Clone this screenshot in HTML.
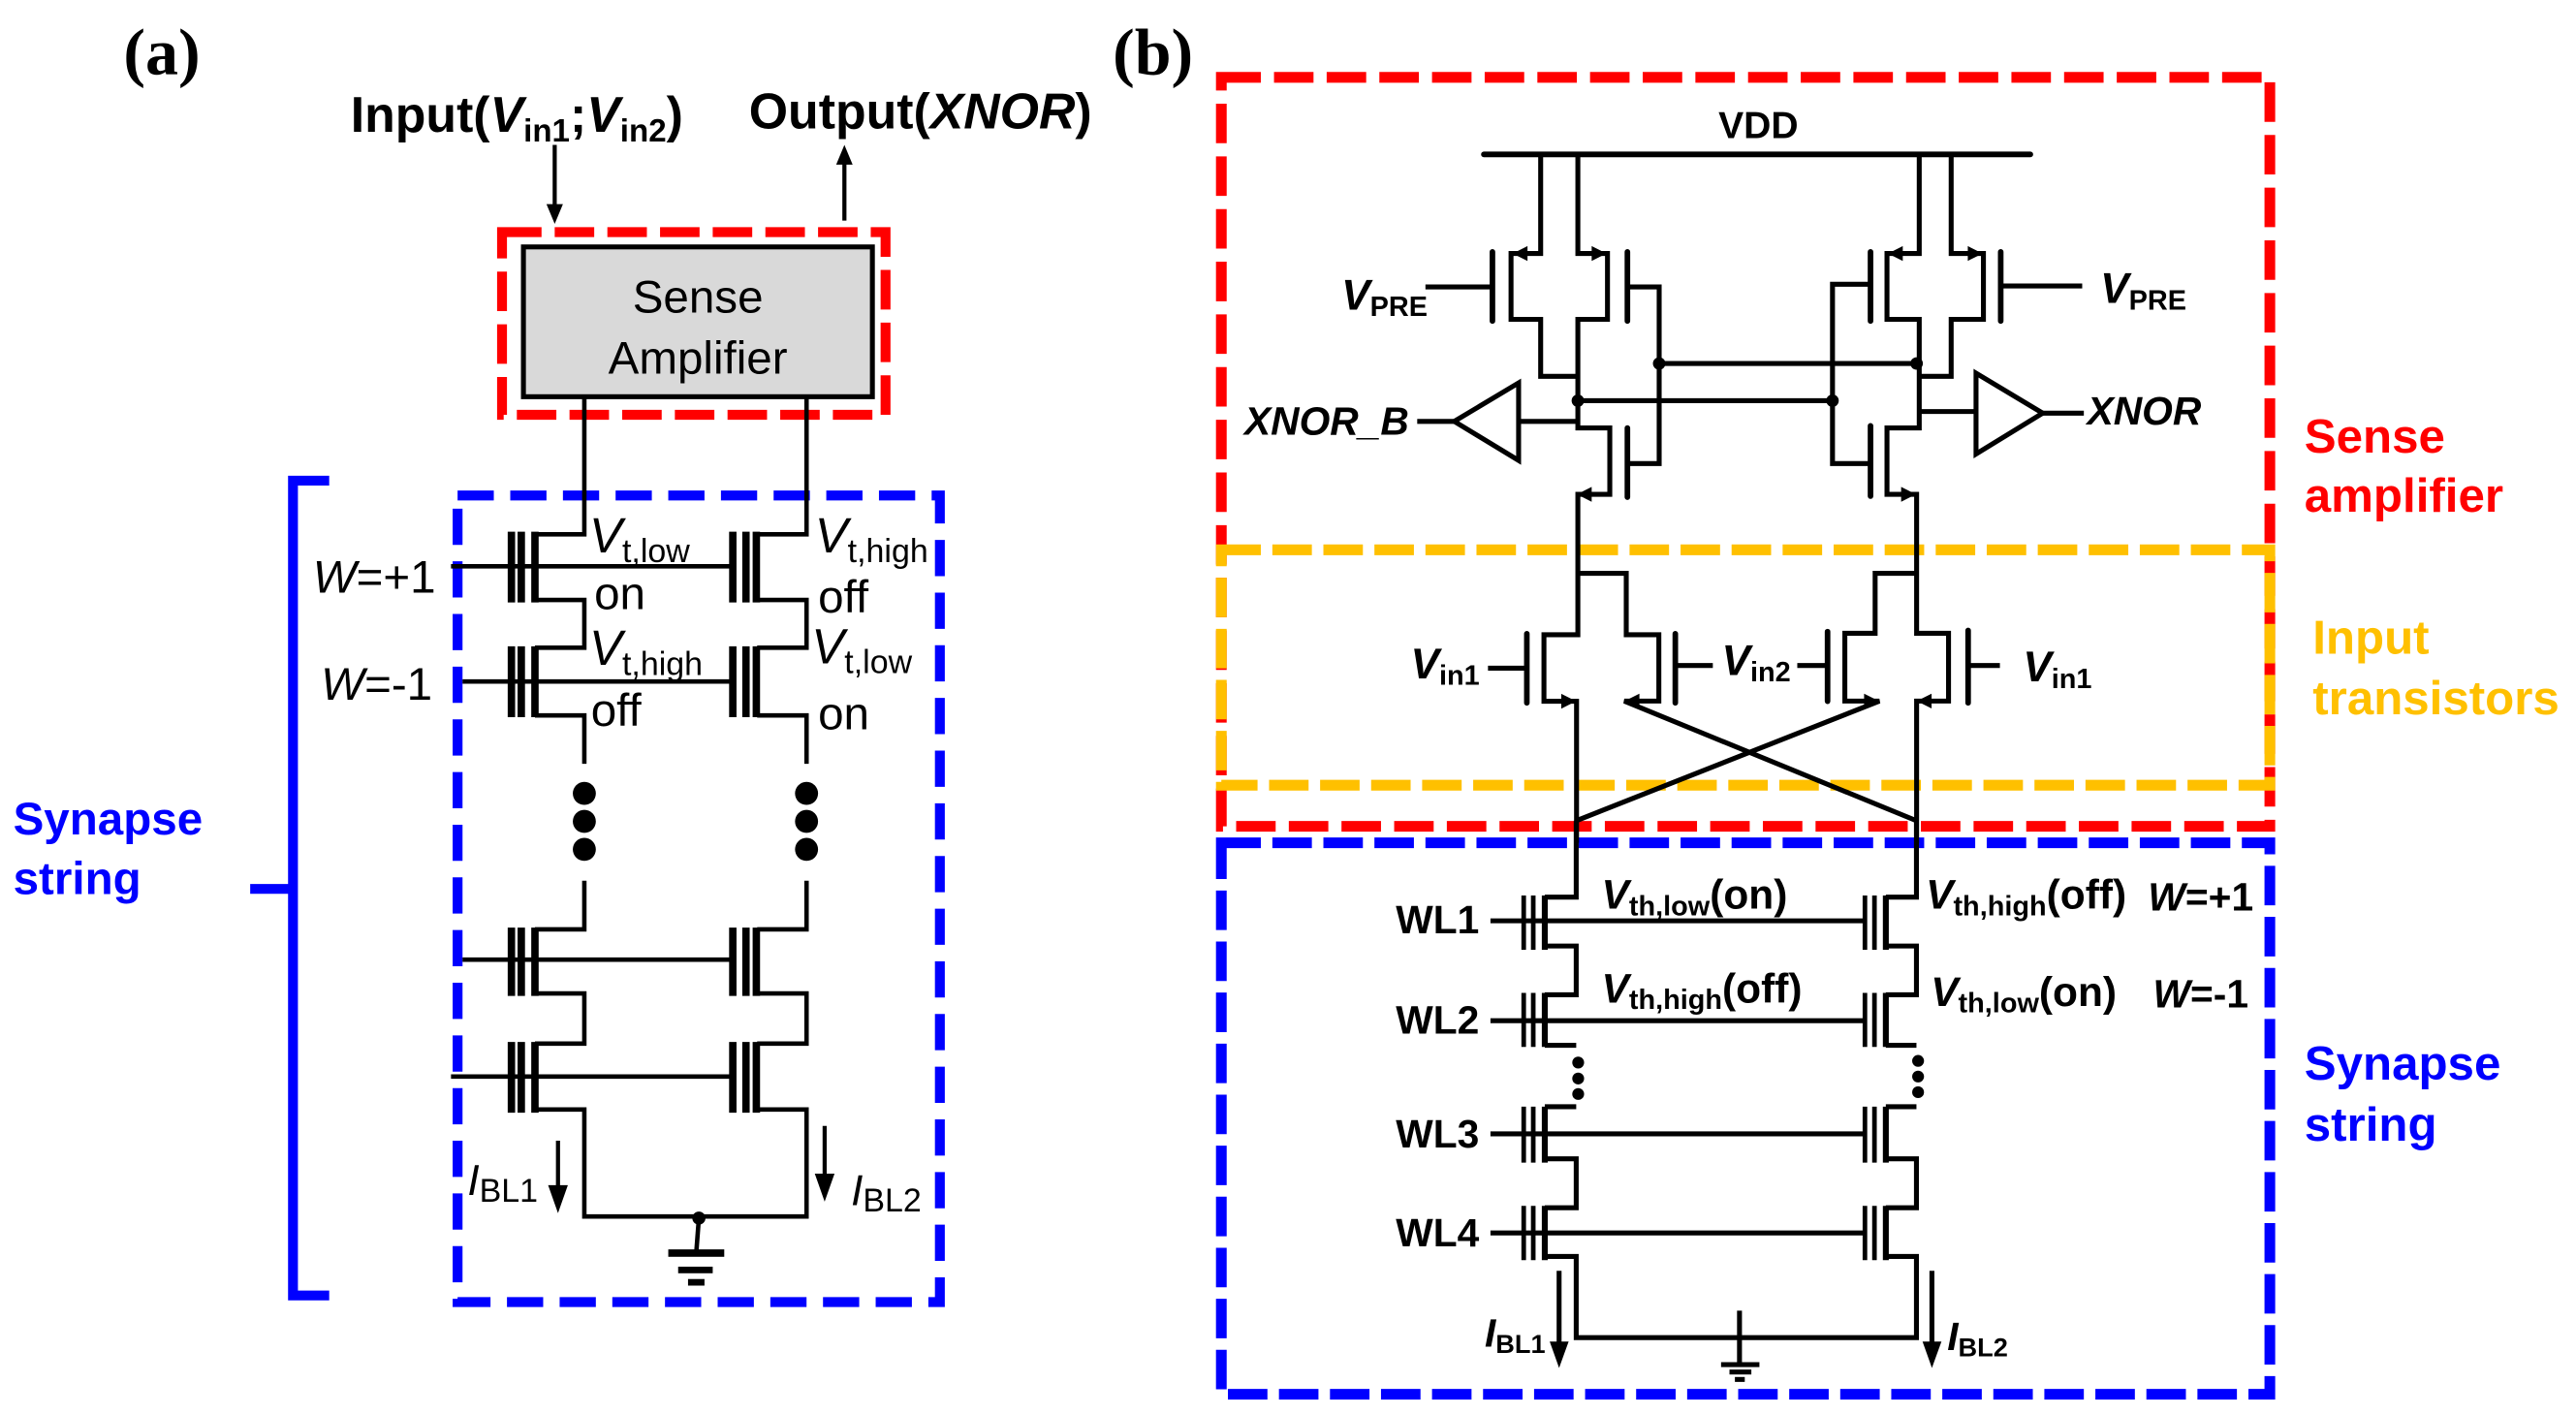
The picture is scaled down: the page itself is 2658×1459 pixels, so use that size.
<!DOCTYPE html>
<html><head><meta charset="utf-8"><style>
html,body{margin:0;padding:0;background:#fff;}
svg{display:block;}
text{font-family:"Liberation Sans",sans-serif;}
</style></head><body>
<svg width="2658" height="1459" viewBox="0 0 1565 859" preserveAspectRatio="none" xmlns="http://www.w3.org/2000/svg">
<rect width="1565" height="859" fill="#fff"/>

<!-- ============ PANEL A ============ -->
<text x="75" y="45" font-weight="bold" font-size="40" style="font-family:'Liberation Serif',serif">(a)</text>
<text x="213" y="80" font-weight="bold" font-size="30.5">Input(<tspan font-style="italic">V</tspan><tspan font-size="19.5" dy="6">in1</tspan><tspan dy="-6">;</tspan><tspan font-style="italic">V</tspan><tspan font-size="19.5" dy="6">in2</tspan><tspan dy="-6">)</tspan></text>
<text x="455" y="78" font-weight="bold" font-size="30.5">Output(<tspan font-style="italic">XNOR</tspan>)</text>
<line x1="337" y1="88" x2="337" y2="126" stroke="#000" stroke-width="2.5"/>
<path d="M332,124 L342,124 L337,136 z" fill="#000"/>
<line x1="513" y1="134" x2="513" y2="98" stroke="#000" stroke-width="2.5"/>
<path d="M508,100 L518,100 L513,88 z" fill="#000"/>
<rect x="305" y="141" width="233" height="111" fill="none" stroke="#f00" stroke-width="6" stroke-dasharray="24 8"/>
<rect x="318" y="150" width="212" height="91" fill="#d9d9d9" stroke="#000" stroke-width="3"/>
<text x="424" y="190" font-size="28" text-anchor="middle">Sense</text>
<text x="424" y="227" font-size="28" text-anchor="middle">Amplifier</text>

<rect x="278" y="301" width="293" height="490" fill="none" stroke="#00f" stroke-width="6" stroke-dasharray="22 10"/>
<path d="M200,292 H178 V787 H200 M178,540 H152" fill="none" stroke="#00f" stroke-width="6"/>
<text x="8" y="507" fill="#00f" font-weight="bold" font-size="28">Synapse</text>
<text x="8" y="543" fill="#00f" font-weight="bold" font-size="28">string</text>

<g fill="none" stroke="#000" stroke-width="2.7">
<path d="M355 241 V324.6 H325 M325 364.5 H355 V393.5 H325 M325 434.6 H355 V464 M355 535 V564.6 H325 M325 603.5 H355 V634 H325 M325 674 H355 V739 H490 V674 H460 M460 634 H490 V603.5 H460 M460 564.6 H490 V535 M490 464 V434.6 H460 M460 393.5 H490 V364.5 H460 M460 324.6 H490 V241"/>
<path d="M274 344 H445 M281 414 H445 M281 583 H445 M274 654 H445"/>
</g>
<g stroke="#000" stroke-width="4.5">
<path d="M310.7 323 V366 M316.7 323 V366 M325 323 V366 M445.2 323 V366 M453.2 323 V366 M459.5 323 V366"/>
<path d="M310.7 392.6 V435.7 M316.7 392.6 V435.7 M325 392.6 V435.7 M445.2 392.6 V435.7 M453.2 392.6 V435.7 M459.5 392.6 V435.7"/>
<path d="M310.7 563.5 V605 M316.7 563.5 V605 M325 563.5 V605 M445.2 563.5 V605 M453.2 563.5 V605 M459.5 563.5 V605"/>
<path d="M310.7 633 V676 M316.7 633 V676 M325 633 V676 M445.2 633 V676 M453.2 633 V676 M459.5 633 V676"/>
</g>
<g fill="#000">
<circle cx="355" cy="482" r="7"/><circle cx="355" cy="499" r="7"/><circle cx="355" cy="516" r="7"/>
<circle cx="490" cy="482" r="7"/><circle cx="490" cy="499" r="7"/><circle cx="490" cy="516" r="7"/>
<circle cx="424.6" cy="740" r="4"/>
<rect x="406" y="759" width="34" height="4.5"/>
<rect x="412" y="769.5" width="21" height="4"/>
<rect x="418" y="777" width="10" height="4"/>
<path d="M333,720 L345,720 L339,737 z"/>
<path d="M495,713 L507,713 L501,730 z"/>
</g>
<line x1="424.6" y1="740" x2="423" y2="761" stroke="#000" stroke-width="2.7"/>
<line x1="339" y1="693" x2="339" y2="722" stroke="#000" stroke-width="2.5"/>
<line x1="501" y1="684" x2="501" y2="715" stroke="#000" stroke-width="2.5"/>

<text x="190" y="360" font-size="28"><tspan font-style="italic">W</tspan>=+1</text>
<text x="195" y="425" font-size="28"><tspan font-style="italic">W</tspan>=-1</text>
<text x="358" y="335.6" font-size="30"><tspan font-style="italic">V</tspan><tspan font-size="20" dy="6">t,low</tspan></text>
<text x="361" y="370" font-size="28">on</text>
<text x="495" y="335.6" font-size="30"><tspan font-style="italic">V</tspan><tspan font-size="20" dy="6">t,high</tspan></text>
<text x="497" y="372" font-size="28">off</text>
<text x="358" y="404" font-size="30"><tspan font-style="italic">V</tspan><tspan font-size="20" dy="6">t,high</tspan></text>
<text x="359" y="441" font-size="28">off</text>
<text x="493" y="403" font-size="30"><tspan font-style="italic">V</tspan><tspan font-size="20" dy="6">t,low</tspan></text>
<text x="497" y="443" font-size="28">on</text>
<text x="284" y="726" font-size="26"><tspan font-style="italic">I</tspan><tspan font-size="20" dy="4">BL1</tspan></text>
<text x="517" y="732" font-size="26"><tspan font-style="italic">I</tspan><tspan font-size="20" dy="4">BL2</tspan></text>

<!-- ============ PANEL B ============ -->
<text x="676" y="45" font-weight="bold" font-size="40" style="font-family:'Liberation Serif',serif">(b)</text>
<rect x="742" y="47" width="637" height="455" fill="none" stroke="#f00" stroke-width="6.5" stroke-dasharray="24 8"/>
<rect x="742" y="334" width="637" height="143" fill="none" stroke="#ffc000" stroke-width="6.5" stroke-dasharray="24 7"/>
<rect x="742" y="512" width="637" height="335" fill="none" stroke="#00f" stroke-width="6.5" stroke-dasharray="24 7"/>

<text x="1044" y="84" font-weight="bold" font-size="23">VDD</text>
<line x1="901.5" y1="93.8" x2="1233.5" y2="93.8" stroke="#000" stroke-width="3.4" stroke-linecap="round"/>

<g fill="none" stroke="#000" stroke-width="3">
<path d="M936 93.8 V154 H918 V194 H936 V228.6 H958.6"/>
<path d="M958.6 93.8 V154 H976.6 V194 H958.6 V260 H978 V300.3 H958.6 V385.6 H938 V426 H957.8 V512"/>
<path d="M988.7 174.3 H1008 V281.6 H988.7"/>
<path d="M1166 93.8 V154 H1146.4 V194 H1166 V260 H1146.4 V300.3 H1164.4 V384.7 H1183.8 V425.9 H1164.4 V512"/>
<path d="M1136.4 172.7 H1113.3 V281.6 H1136.4"/>
<path d="M1185.4 93.8 V154 H1205 V194 H1185.4 V228.6 H1166"/>
<path d="M958.6 243.4 H1113.3 M1008 220.8 H1164.4"/>
<path d="M866 174.3 H906.7 M1215.5 173.7 H1265"/>
<path d="M958.6 256 H922.6 M861 256 H883.5 M1166 250 H1200.5 M1241 251 H1266"/>
<path d="M922.6 232.6 V279.7 L883.5 256 Z" fill="#fff"/>
<path d="M1200.5 226.7 V275.8 L1241 251 Z" fill="#fff"/>
<path d="M957.8 348.3 H988 V385.6 H1007.8 V425.9 H986.8 L1164.1 498.5"/>
<path d="M1164.1 348.3 H1139.2 V384.7 H1120.8 V425.9 H1141.8 L957.8 498.5"/>
<path d="M904 405.9 H927.6 M1017.8 404.3 H1040.6 M1091.9 404.3 H1110.3 M1195.7 404.3 H1215"/>
</g>
<g stroke="#000" stroke-width="3.4" stroke-linecap="round">
<path d="M906.7 153 V195 M988.7 153 V195 M1136.4 153 V195 M1215.5 153 V195"/>
<path d="M988.7 260 V302 M1136.4 258.7 V301.4"/>
<path d="M927.6 385 V427 M1017.8 385 V427 M1110.3 383.7 V426 M1195.7 383 V427"/>
</g>
<g fill="#000">
<circle cx="958.6" cy="243.4" r="3.8"/><circle cx="1113.3" cy="243.4" r="3.8"/>
<circle cx="1008" cy="220.8" r="3.8"/><circle cx="1164.4" cy="220.8" r="3.8"/>
<path d="M919 154 L928 149.5 L928 158.5 z"/>
<path d="M976 154 L967 149.5 L967 158.5 z"/>
<path d="M1147 154 L1156 149.5 L1156 158.5 z"/>
<path d="M1204.5 154 L1195.5 149.5 L1195.5 158.5 z"/>
<path d="M958 300.3 L967 295.8 L967 304.8 z"/>
<path d="M1164 300.3 L1155 295.8 L1155 304.8 z"/>
<path d="M957.5 426 L948.5 421.5 L948.5 430.5 z"/>
<path d="M987 425.9 L996 421.4 L996 430.4 z"/>
<path d="M1141.5 425.9 L1132.5 421.4 L1132.5 430.4 z"/>
<path d="M1164.5 425.9 L1173.5 421.4 L1173.5 430.4 z"/>
</g>

<g fill="none" stroke="#000" stroke-width="3">
<path d="M957.6 498.5 V545 H938.5 M938.5 574.7 H957.6 V604.3 H938.5 M938.5 635 H957.6 M957.6 672.3 H938.5 M938.5 704 H957.6 V733.7 H938.5 M938.5 763.3 H957.6 V812.6 H1164.3 V763.3 H1145.7 M1145.7 733.7 H1164.3 V704 H1145.7 M1145.7 672.3 H1164.3 M1164.3 635 H1145.7 M1145.7 604.3 H1164.3 V574.7 H1145.7 M1145.7 545 H1164.3 V498.5"/>
<path d="M905.5 559.4 H1133 M905.5 620.1 H1133 M905.5 688.8 H1133 M905.5 749 H1133"/>
</g>
<g stroke="#000" stroke-width="2.8">
<path d="M925.7 544 V577 M931.5 544 V577 M1133 544 V577 M1138.8 544 V577"/>
<path d="M925.7 603.2 V636 M931.5 603.2 V636 M1133 603.2 V636 M1138.8 603.2 V636"/>
<path d="M925.7 672.3 V706.3 M931.5 672.3 V706.3 M1133 672.3 V706.3 M1138.8 672.3 V706.3"/>
<path d="M925.7 732.6 V765.5 M931.5 732.6 V765.5 M1133 732.6 V765.5 M1138.8 732.6 V765.5"/>
</g>
<g stroke="#000" stroke-width="3.6">
<path d="M938.5 544 V577 M1145.7 544 V577 M938.5 603.2 V636 M1145.7 603.2 V636 M938.5 672.3 V706.3 M1145.7 672.3 V706.3 M938.5 732.6 V765.5 M1145.7 732.6 V765.5"/>
</g>
<g fill="#000">
<circle cx="958.8" cy="645.5" r="3.6"/><circle cx="958.8" cy="655.2" r="3.6"/><circle cx="958.8" cy="664.6" r="3.6"/>
<circle cx="1165.3" cy="644.5" r="3.6"/><circle cx="1165.3" cy="654" r="3.6"/><circle cx="1165.3" cy="663.5" r="3.6"/>
<rect x="1045.6" y="827.5" width="23.3" height="3"/>
<rect x="1050.7" y="832" width="13.3" height="3"/>
<rect x="1054" y="836.5" width="6" height="3"/>
<path d="M941.5,815 L953,815 L947.2,831 z"/>
<path d="M1168,815 L1179.5,815 L1173.7,831 z"/>
</g>
<line x1="1056.8" y1="796.2" x2="1056.8" y2="829" stroke="#000" stroke-width="3"/>
<line x1="947.2" y1="772" x2="947.2" y2="817" stroke="#000" stroke-width="3"/>
<line x1="1173.7" y1="772" x2="1173.7" y2="817" stroke="#000" stroke-width="3"/>

<g font-weight="bold">
<text x="815" y="188" font-size="26"><tspan font-style="italic">V</tspan><tspan font-size="17" dy="4">PRE</tspan></text>
<text x="1276" y="184" font-size="26"><tspan font-style="italic">V</tspan><tspan font-size="17" dy="4">PRE</tspan></text>
<text x="756" y="264" font-size="24" font-style="italic">XNOR_B</text>
<text x="1268" y="258" font-size="24" font-style="italic">XNOR</text>
<text x="857" y="412" font-size="26"><tspan font-style="italic">V</tspan><tspan font-size="17" dy="4">in1</tspan></text>
<text x="1046" y="410" font-size="26"><tspan font-style="italic">V</tspan><tspan font-size="17" dy="4">in2</tspan></text>
<text x="1229" y="414" font-size="26"><tspan font-style="italic">V</tspan><tspan font-size="17" dy="4">in1</tspan></text>
<text x="1400" y="275" font-size="29" fill="#f00">Sense</text>
<text x="1400" y="311" font-size="29" fill="#f00">amplifier</text>
<text x="1405" y="397" font-size="29" fill="#ffc000">Input</text>
<text x="1405" y="434" font-size="29" fill="#ffc000">transistors</text>
<text x="1400" y="656" font-size="29" fill="#00f">Synapse</text>
<text x="1400" y="693" font-size="29" fill="#00f">string</text>
<text x="848" y="567" font-size="24">WL1</text>
<text x="848" y="628" font-size="24">WL2</text>
<text x="848" y="697" font-size="24">WL3</text>
<text x="848" y="757" font-size="24">WL4</text>
<text x="973" y="552" font-size="25"><tspan font-style="italic">V</tspan><tspan font-size="17" dy="4">th,low</tspan><tspan dy="-4">(on)</tspan></text>
<text x="973" y="609" font-size="25"><tspan font-style="italic">V</tspan><tspan font-size="17" dy="4">th,high</tspan><tspan dy="-4">(off)</tspan></text>
<text x="1170" y="552" font-size="25"><tspan font-style="italic">V</tspan><tspan font-size="17" dy="4">th,high</tspan><tspan dy="-4">(off)</tspan></text>
<text x="1173" y="611" font-size="25"><tspan font-style="italic">V</tspan><tspan font-size="17" dy="4">th,low</tspan><tspan dy="-4">(on)</tspan></text>
<text x="1305" y="553" font-size="24"><tspan font-style="italic">W</tspan>=+1</text>
<text x="1308" y="612" font-size="24"><tspan font-style="italic">W</tspan>=-1</text>
<text x="902" y="818" font-size="24"><tspan font-style="italic">I</tspan><tspan font-size="16" dy="4">BL1</tspan></text>
<text x="1183" y="820" font-size="24"><tspan font-style="italic">I</tspan><tspan font-size="16" dy="4">BL2</tspan></text>
</g>
</svg>
</body></html>
